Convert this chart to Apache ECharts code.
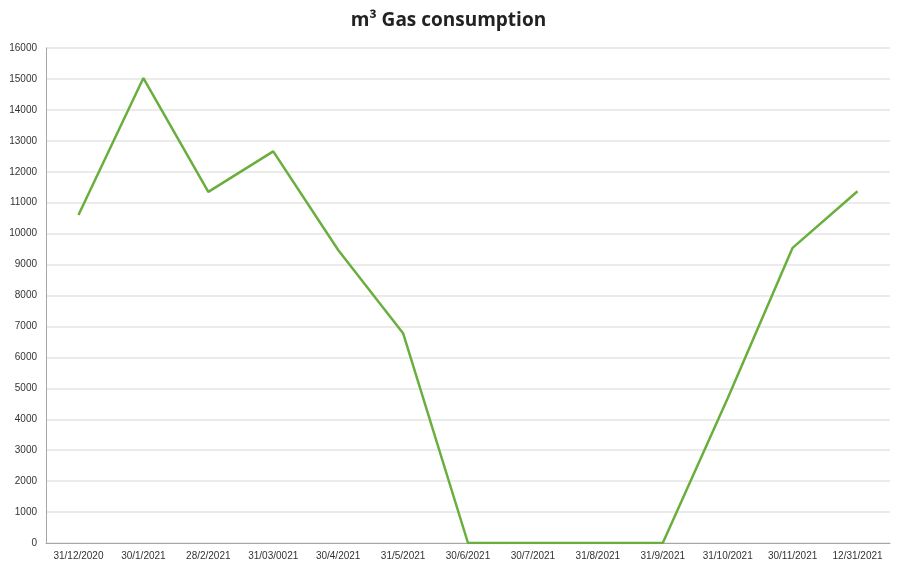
<!DOCTYPE html>
<html>
<head>
<meta charset="utf-8">
<script src="https://cdn.jsdelivr.net/npm/echarts@6/dist/echarts.min.js"></script>
<style>html,body{margin:0;padding:0;background:#fff}#c{width:897px;height:569px}</style>
</head>
<body>
<div id="c"></div>
<script>
const categories = ['31/12/2020','30/1/2021','28/2/2021','31/03/0021','30/4/2021','31/5/2021','30/6/2021','30/7/2021','31/8/2021','31/9/2021','31/10/2021','30/11/2021','12/31/2021'];
const gasValues = [10600, 15030, 11350, 12660, 9470, 6780, 0, 0, 0, 0, 4680, 9540, 11370];
const yTicks = {min: 0, max: 16000, interval: 1000};

const chart = echarts.init(document.getElementById('c'));
chart.setOption({
  animation: false,
  title: {
    text: 'm³ Gas consumption',
    left: 'center',
    top: 6,
    textStyle: {fontFamily: 'Open Sans', fontSize: 19, fontWeight: 'bold', color: '#222'}
  },
  grid: {left: 46, right: 7, top: 48, bottom: 26},
  xAxis: {
    type: 'category',
    data: categories,
    boundaryGap: true,
    axisLine: {lineStyle: {color: '#a6a6a6', width: 1}},
    axisTick: {show: false},
    axisLabel: {fontFamily: 'Liberation Sans', fontSize: 10, color: '#333', margin: 8, interval: 0}
  },
  yAxis: {
    type: 'value',
    min: yTicks.min, max: yTicks.max, interval: yTicks.interval,
    axisLine: {show: true, lineStyle: {color: '#a6a6a6', width: 1}},
    axisTick: {show: false},
    splitLine: {lineStyle: {color: '#e4e4e4', width: 1.5}},
    axisLabel: {fontFamily: 'Liberation Sans', fontSize: 10, color: '#333', margin: 9,
      formatter: function (v) { return String(v); }}
  },
  series: [{
    type: 'line',
    data: gasValues,
    symbol: 'none',
    lineStyle: {color: '#6aaf3d', width: 2.5},
    itemStyle: {color: '#6aaf3d'}
  }]
});
</script>
</body>
</html>
